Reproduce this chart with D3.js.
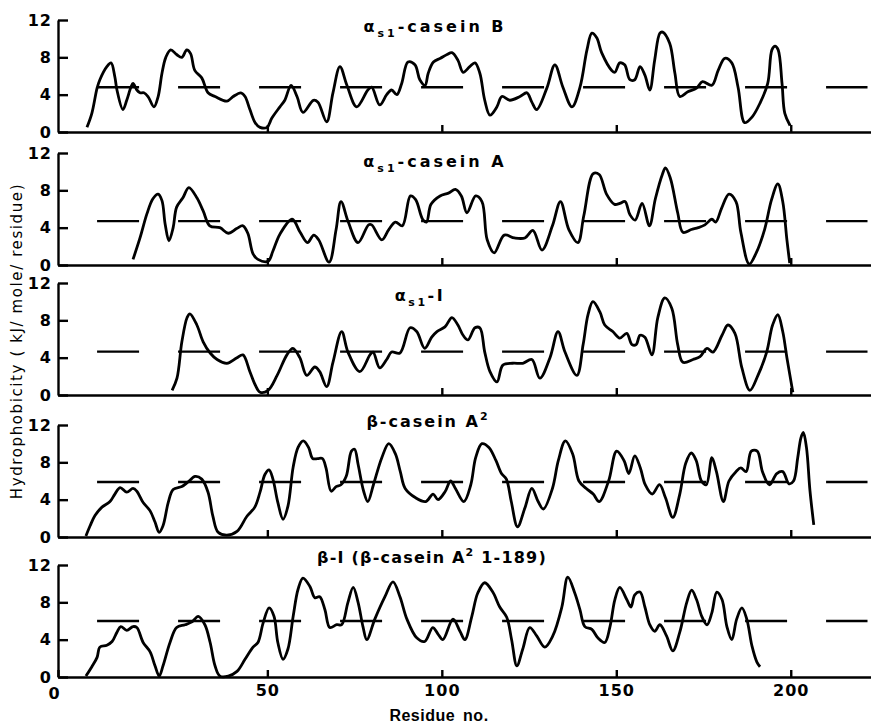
<!DOCTYPE html>
<html>
<head>
<meta charset="utf-8">
<script src="https://cdn.jsdelivr.net/npm/d3@7"></script>
<style>
  body { margin: 0; background: #fff; }
  text { fill: #000; }
</style>
</head>
<body>
<svg id="chart" width="871" height="726"></svg>
<script>
// hydrophobicity profiles, [residue, kJ/mole/residue]
const caseinB = [[-1.7,0.5],[-0.3,2.0],[1.2,4.7],[2.0,5.6],[4.0,7.0],[5.2,7.4],[6.3,5.9],[6.9,4.5],[8.6,2.4],[9.7,3.4],[10.9,4.8],[11.5,5.2],[12.6,4.5],[13.5,4.2],[14.6,4.2],[15.8,3.8],[17.5,2.7],[18.7,3.8],[19.8,6.3],[20.9,8.0],[22.3,8.8],[24,8.3],[25.5,8.0],[26.9,8.8],[28,8.4],[29.2,6.6],[31.2,5.8],[33,4.2],[35,3.8],[38.4,3.3],[40.2,3.8],[42.4,4.2],[43.6,3.8],[45,2.4],[46.5,1.0],[47.9,0.5],[49.9,0.5],[51.3,1.5],[53.6,2.7],[55,3.4],[56.8,5.0],[58.5,3.8],[60.2,2.1],[63.2,3.4],[64.5,3.2],[67,1.1],[68.8,4.2],[70.8,7.0],[72.8,5.0],[75.6,2.7],[78.8,4.5],[79.9,4.8],[82.2,2.9],[84.2,4.0],[85.6,4.5],[87.1,4.0],[88.5,5.2],[90.3,7.5],[92.3,7.2],[93.7,5.6],[95.2,5.0],[96.1,6.3],[97.6,7.5],[99.6,7.9],[101.5,8.3],[102.9,8.5],[104.6,7.7],[106.1,6.4],[108,7.0],[109.5,7.4],[110.9,6.3],[112.3,3.4],[113.8,1.8],[115.8,2.7],[117.2,3.8],[119.5,3.4],[122.4,3.8],[124.4,4.2],[125.8,3.2],[127.2,2.4],[130.1,4.7],[132.4,7.2],[134.7,4.8],[137.3,2.7],[139.6,4.8],[141.6,8.8],[143,10.6],[144.4,10.1],[145.8,8.5],[148.7,6.6],[149.6,6.4],[151,7.4],[152.4,7.2],[153.9,5.6],[155.3,5.6],[156.8,7.0],[158.2,6.1],[159.6,4.5],[161,7.7],[162.5,10.6],[163.3,10.7],[165.3,9.5],[166.8,6.3],[168.2,3.8],[170.5,4.3],[173,4.7],[174.7,5.4],[177.4,5.0],[179.2,6.6],[181.1,7.9],[183.1,7.4],[184.9,4.8],[186.8,1.0],[188.9,1.6],[191.2,3.1],[193.4,5.2],[194.6,8.8],[195.5,9.2],[196.4,8.8],[197.5,5.2],[198.3,2.0],[199.8,0.7]];

const caseinA = [[11.5,0.6],[13.5,2.9],[15.5,5.5],[17.2,7.1],[18.7,7.6],[19.8,6.9],[20.7,4.4],[21.8,2.6],[23,4.0],[24,6.2],[25.8,7.2],[27.5,8.3],[29.8,7.2],[31.6,5.8],[33.5,4.2],[36.4,4.0],[38.8,3.4],[41.2,3.9],[43,4.2],[44.4,3.4],[45.9,1.2],[47.3,0.6],[50.2,0.4],[51.6,1.5],[53.6,3.3],[57.1,4.9],[59.4,3.5],[61.5,2.4],[63.3,3.2],[64.7,2.7],[67.7,0.3],[69.7,3.8],[71.1,6.8],[73.2,4.6],[76,2.4],[79,4.3],[79.9,4.3],[82.8,2.7],[84.8,3.8],[86.7,4.6],[88.7,4.2],[91,7.4],[92.5,7.0],[94.5,4.9],[95.6,4.6],[96.9,6.5],[99.5,7.4],[101.9,7.7],[103.9,8.1],[105.6,7.4],[107.2,5.6],[109.7,7.4],[111.5,6.8],[113,2.7],[115,1.3],[117.9,3.2],[120.8,2.9],[123.8,2.9],[126.1,3.7],[128.7,1.6],[131.7,4.2],[134,6.8],[136.4,3.8],[139,2.4],[140.7,5.3],[143.4,9.8],[145.1,9.7],[147.2,7.6],[149.5,6.5],[151,6.6],[152.5,6.8],[153.9,5.4],[155.4,4.8],[157.4,6.6],[159.5,4.2],[161.2,7.1],[163.2,9.7],[164.1,10.4],[165.5,9.3],[167.6,5.6],[169.1,3.5],[171.5,3.8],[173.5,4.0],[175.4,4.3],[177.4,4.9],[178.5,4.6],[180.2,6.1],[182.3,7.6],[184.3,6.8],[185.7,3.5],[188.1,0.1],[190.1,1.3],[192.5,3.8],[194.5,7.0],[196.3,8.7],[197.7,6.8],[198.9,2.7],[199.7,0.2]];

const caseinI = [[22.7,0.5],[24.1,1.8],[25.5,5.7],[27,8.3],[27.8,8.7],[29.8,7.5],[31.6,5.7],[33.6,4.5],[35.6,3.8],[38.4,3.4],[41.3,4.0],[43,4.3],[45,2.5],[46.5,1.1],[47.9,0.3],[50.2,0.5],[52.8,2.1],[55.6,4.3],[57.3,5.0],[59.3,4.0],[61.3,2.1],[63.6,3.0],[65,2.5],[67,0.9],[68.8,3.5],[71.3,6.8],[73.1,4.6],[76.5,2.5],[79.4,4.3],[80.3,4.6],[82.2,2.9],[84.2,3.8],[85.6,4.6],[88,4.5],[90.9,7.2],[92.8,6.8],[95.1,5.0],[97.1,6.2],[98.6,6.8],[100.9,7.3],[102.9,8.3],[104.6,7.5],[106.1,6.4],[107.5,5.9],[109.5,7.2],[110.9,7.2],[112.3,4.6],[113.8,2.5],[115.8,1.4],[117.5,3.2],[120.3,3.4],[123.2,3.4],[125.8,3.8],[128.1,1.8],[131,4.0],[133.3,6.8],[135.3,4.6],[138.7,2.1],[140.5,5.4],[141.9,8.6],[143.3,10.0],[145.3,8.9],[146.7,7.5],[149,6.8],[151,6.1],[153,6.6],[154.5,5.4],[155.7,5.4],[156.8,6.4],[158.2,6.2],[160.2,4.3],[161.9,8.3],[163.9,10.4],[165.9,9.3],[167.6,5.4],[169.1,3.5],[172,3.8],[174,4.1],[176,5.0],[177.7,4.6],[180.3,6.4],[182,7.5],[184,6.6],[186,2.9],[188.3,0.5],[190.6,2.1],[193.1,4.6],[194.8,7.5],[196.3,8.6],[197.7,6.8],[198.9,4.0],[200.6,0.3]];

const betaA2 = [[-2,0.1],[-0.8,1.2],[0.6,2.3],[2.6,3.2],[4.9,3.8],[6.3,4.6],[7.8,5.3],[9.7,4.8],[11.5,5.2],[12.6,4.9],[14.4,3.7],[16.4,2.8],[17.8,1.6],[19,0.5],[20.1,1.2],[21.6,3.7],[23,5.1],[25.5,5.4],[27.3,5.9],[29.3,6.5],[31.2,6.2],[33,4.8],[34.4,2.2],[35.9,0.5],[38.4,0.2],[41.3,0.6],[44.1,2.2],[46.4,3.2],[47.9,4.8],[49.3,6.7],[50.5,7.2],[51.6,6.2],[53,3.7],[54.5,1.9],[55.9,3.3],[57.4,7.5],[58.8,9.6],[60.3,10.3],[61.8,9.6],[63,8.4],[64.4,8.4],[65.8,8.4],[66.8,7.4],[68.3,4.9],[69.7,5.4],[71.1,5.6],[72.6,6.5],[74.1,9.2],[75,9.4],[76,7.8],[77.6,4.9],[78.8,3.8],[80.4,5.6],[82.8,8.5],[84.8,10.0],[86.7,8.9],[88.1,7.0],[89.5,5.2],[92.5,4.2],[95.4,3.8],[97.5,4.6],[98.9,4.0],[101,4.9],[102.5,6.0],[103.9,5.2],[106.3,3.8],[108.3,5.6],[109.7,8.5],[111.5,10.0],[113.5,9.6],[115.5,8.2],[117.1,6.8],[118.5,6.2],[119.9,3.8],[121.7,1.1],[123.8,3.1],[125.8,5.2],[127.6,3.8],[129.1,3.0],[131.7,5.2],[133.4,8.2],[135.4,10.3],[137.5,8.9],[139.3,6.0],[141.4,5.2],[143.4,4.6],[145.1,3.8],[147.8,6.0],[150.1,9.2],[152.2,8.2],[153.6,6.8],[155.3,8.7],[156.9,7.4],[158.3,5.6],[160.3,4.6],[162.4,5.6],[164.1,4.2],[166.2,2.1],[168.2,4.6],[169.9,7.9],[171.5,9.0],[172.9,8.2],[174.4,6.0],[175.8,5.6],[177.4,8.5],[178.7,7.0],[180.7,3.8],[182.3,6.0],[184.3,7.0],[185.7,7.4],[187.2,7.0],[188.7,9.2],[190.4,9.2],[191.9,7.0],[193.9,5.6],[196,6.8],[197.7,7.0],[199.5,5.7],[200.8,6.0],[202,8.5],[202.9,10.6],[203.6,11.2],[204.5,9.6],[205.5,5.0],[206.6,1.3]];

const betaI = [[-2,0.1],[-0.3,1.1],[1.2,2.1],[2,3.2],[4,3.4],[5.5,3.8],[6.9,4.8],[8,5.4],[9.7,5.0],[11.5,5.4],[12.6,5.3],[14.4,3.7],[16.4,2.7],[17.8,1.2],[19,0.1],[20.1,1.2],[22.1,3.7],[24,5.3],[26.4,5.6],[28.4,5.9],[30.2,6.5],[32.1,5.6],[33.6,3.7],[35,1.2],[36.4,0.1],[38.8,0.1],[41.3,0.6],[43.6,1.9],[45.9,3.2],[47.3,3.7],[48.8,5.8],[50.5,7.4],[51.9,6.5],[53,3.7],[54.5,1.9],[55.9,3.0],[57.4,6.5],[58.8,9.4],[60.2,10.6],[62.2,9.7],[63.6,8.5],[65,8.6],[66.5,7.2],[67.9,5.3],[69.9,5.6],[71.3,5.6],[73.1,8.0],[74.6,9.6],[76,8.0],[77.4,5.4],[78.5,4.0],[80.8,6.2],[83.7,8.6],[86,10.2],[88,8.6],[90,6.2],[92.8,4.2],[95.1,3.8],[97.4,5.3],[98.9,4.6],[100.3,4.0],[103.2,6.2],[105.2,4.9],[106.6,4.0],[108.6,6.5],[110.3,9.0],[112.3,10.1],[114.6,9.1],[116.6,7.5],[118.6,6.4],[120,4.0],[121.5,1.2],[123.2,3.0],[125.2,5.3],[127.2,4.4],[129.5,3.2],[131.8,4.4],[134.4,7.5],[136.1,10.7],[138.1,9.0],[139.6,7.2],[141,5.4],[143,5.1],[144.7,4.2],[146.7,3.7],[148.2,5.4],[149.6,8.3],[151,9.6],[153,8.3],[154.2,7.5],[155.3,8.8],[156.8,9.1],[158.2,7.5],[159.6,5.6],[161,4.9],[162.5,5.6],[164.4,4.4],[166.2,2.8],[168.2,4.8],[170.2,8.0],[171.6,9.3],[173,8.3],[174.5,6.5],[176,5.6],[177.4,6.9],[178.8,9.1],[180.3,8.3],[181.7,5.4],[183.1,4.0],[184.5,6.2],[186,7.4],[187.4,6.2],[188.9,3.3],[190.3,1.6],[191.2,1.1]];

const profiles = [caseinB, caseinA, caseinI, betaA2, betaI];
// average hydrophobicity of each protein (the long dashes)
const averages = [4.8, 4.7, 4.65, 5.9, 6.0];
const averageSpan = [1.2, 222];
// title pieces: 0 normal, 1 subscript, 2 superscript
const titles = [
  [['α', 0], ['s1', 1], ['-casein B', 0]],
  [['α', 0], ['s1', 1], ['-casein A', 0]],
  [['α', 0], ['s1', 1], ['-I', 0]],
  [['β-casein A', 0], ['2', 2]],
  [['β-I (β-casein A', 0], ['2', 2], [' 1-189)', 0]]
];
const residueTicks = [50, 100, 150, 200];
const valueTicks = [0, 4, 8, 12];

const svg = d3.select('#chart');
const font = '"DejaVu Sans", "Liberation Sans", sans-serif';

let x = d3.scaleLinear().domain([-10, 223]).range([58, 871]);
let panelTop = [20, 153, 283, 425, 565];
let panelH = 112;
let titleX = [435, 435, 420, 428, 432];
let titleY = [32, 167, 301, 427, 563];
let titleSpacing = [3, 3, 2.5, 2, 1.2];

profiles.forEach((data, i) => {
  let y = d3.scaleLinear().domain([0, 12]).range([panelH, 0]);
  let g = svg.append('g').attr('transform', `translate(0,${panelTop[i]})`);
  let last = i === profiles.length - 1;

  let xAxis = d3.axisBottom(x)
    .tickValues(last ? [-10].concat(residueTicks) : residueTicks)
    .tickFormat(d => d < 0 ? '0' : d)
    .tickSize(-7)
    .tickSizeOuter(0)
    .tickPadding(8);

  let gx = g.append('g')
    .attr('transform', `translate(0,${panelH})`)
    .call(xAxis);
  if (!last) gx.selectAll('text').remove();
  gx.selectAll('.tick text')
    .attr('dx', d => d < 0 ? -4 : 0)
    .attr('y', d => d < 0 ? 11 : 8);

  g.append('g')
    .attr('transform', `translate(${x(-10)},0)`)
    .call(d3.axisLeft(y).tickValues(valueTicks).tickSize(-10).tickSizeOuter(0).tickPadding(6));

  g.selectAll('.domain, .tick line')
    .attr('stroke', '#000')
    .attr('stroke-width', 2.4);
  g.selectAll('.tick text')
    .attr('font-family', font)
    .attr('font-weight', 'bold')
    .attr('font-size', 16)
    .attr('letter-spacing', 1);

  g.append('line')
    .attr('x1', x(averageSpan[0]))
    .attr('x2', x(averageSpan[1]))
    .attr('y1', y(averages[i]))
    .attr('y2', y(averages[i]))
    .attr('stroke', '#000')
    .attr('stroke-width', 2.4)
    .attr('stroke-dasharray', '42 39');

  g.append('path')
    .datum(data)
    .attr('fill', 'none')
    .attr('stroke', '#000')
    .attr('stroke-width', 2.8)
    .attr('stroke-linejoin', 'round')
    .attr('d', d3.line()
      .x(d => x(d[0]))
      .y(d => y(d[1]))
      .curve(d3.curveCatmullRom.alpha(0.5)));

  let t = svg.append('text')
    .attr('x', titleX[i])
    .attr('y', titleY[i])
    .attr('text-anchor', 'middle')
    .attr('font-family', font)
    .attr('font-weight', 'bold')
    .attr('font-size', 16)
    .attr('letter-spacing', titleSpacing[i]);
  let shift = 0;
  titles[i].forEach(([s, k]) => {
    let ts = t.append('tspan').text(s);
    let want = k === 1 ? 5 : k === 2 ? -7 : 0;
    if (k) ts.attr('font-size', 11);
    if (want !== shift) ts.attr('dy', want - shift);
    shift = want;
  });
});

svg.append('text')
  .attr('x', 439)
  .attr('y', 721)
  .attr('text-anchor', 'middle')
  .attr('font-family', '"Liberation Sans", Arial, sans-serif')
  .attr('font-weight', 'bold')
  .attr('font-size', 16)
  .attr('letter-spacing', 0.5)
  .attr('word-spacing', 3)
  .text('Residue no.');

svg.append('text')
  .attr('transform', 'translate(22,341) rotate(-90)')
  .attr('text-anchor', 'middle')
  .attr('font-family', font)
  .attr('font-size', 15)
  .attr('letter-spacing', 1.6)
  .text('Hydrophobicity ( kJ/ mole/ residue)');
</script>
</body>
</html>
